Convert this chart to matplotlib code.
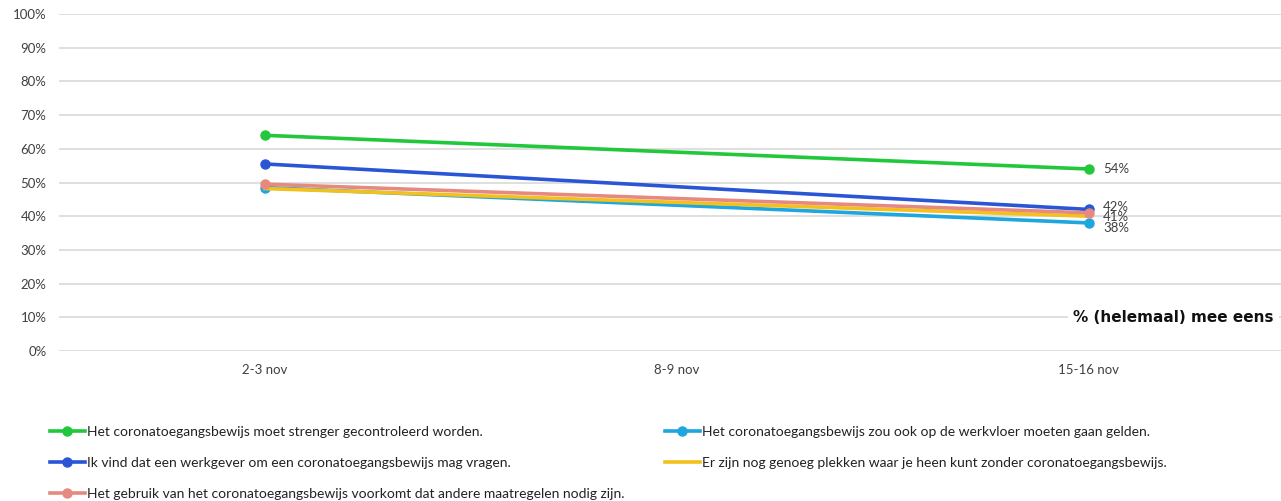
import matplotlib
matplotlib.use("Agg")
import matplotlib.pyplot as plt
from matplotlib.lines import Line2D
import numpy as np

plt.rcParams['font.family'] = ['Lato', 'DejaVu Sans']

categories = ["2-3 nov", "8-9 nov", "15-16 nov"]
# only first and last measurements present
x_idx = [0, 2]
green_vals = [0.64, 0.54]   # moet strenger gecontroleerd worden
blue_vals = [0.555, 0.42]   # werkgever mag vragen
pink_vals = [0.495, 0.41]   # voorkomt andere maatregelen
cyan_vals = [0.485, 0.38]   # werkvloer
yellow_vals = [0.482, 0.40] # genoeg plekken

green_label = "Het coronatoegangsbewijs moet strenger gecontroleerd worden."
blue_label = "Ik vind dat een werkgever om een coronatoegangsbewijs mag vragen."
pink_label = "Het gebruik van het coronatoegangsbewijs voorkomt dat andere maatregelen nodig zijn."
cyan_label = "Het coronatoegangsbewijs zou ook op de werkvloer moeten gaan gelden."
yellow_label = "Er zijn nog genoeg plekken waar je heen kunt zonder coronatoegangsbewijs."

yticks = [0, 0.1, 0.2, 0.3, 0.4, 0.5, 0.6, 0.7, 0.8, 0.9, 1.0]
ytick_labels = ["0%", "10%", "20%", "30%", "40%", "50%", "60%", "70%", "80%", "90%", "100%"]

C_GREEN = '#22c83c'
C_BLUE = '#2a56d6'
C_PINK = '#e68a80'
C_CYAN = '#1ea6de'
C_YELLOW = '#f3c01c'

W, H = 1281, 501
fig = plt.figure(figsize=(W/100, H/100), dpi=100)
ax_left, ax_right = 59, 1295
ax_top, ax_bottom = 14, 351
ax = fig.add_axes([ax_left/W, 1 - ax_bottom/H, (ax_right-ax_left)/W, (ax_bottom-ax_top)/H])
ax.set_xlim(-0.5, 2.5)
ax.set_ylim(0, 1.0)

for s in ax.spines.values():
    s.set_visible(False)
ax.set_yticks(yticks)
ax.set_yticklabels(ytick_labels, fontsize=9.5, color='#404040')
ax.set_xticks(range(len(categories)))
ax.set_xticklabels(categories, fontsize=9.5, color='#404040')
ax.tick_params(axis='both', length=0)
ax.tick_params(axis='y', pad=9)
ax.tick_params(axis='x', pad=9)
ax.grid(axis='y', color='#d9d9d9', linewidth=1.2)
ax.set_axisbelow(True)

lw = 2.6
ms = 6.5
ax.plot(x_idx, cyan_vals, color=C_CYAN, lw=lw, marker='o', ms=ms, zorder=3)
ax.plot(x_idx, yellow_vals, color=C_YELLOW, lw=lw, zorder=3)
ax.plot(x_idx, pink_vals, color=C_PINK, lw=lw, marker='o', ms=ms, zorder=4)
ax.plot(x_idx, blue_vals, color=C_BLUE, lw=lw, marker='o', ms=ms, zorder=3.5)
ax.plot(x_idx, green_vals, color=C_GREEN, lw=lw, marker='o', ms=ms, zorder=3)

def lab(val, dy):
    ax.annotate(f"{round(val*100):d}%", (2, val), xytext=(10, dy), textcoords='offset points',
                fontsize=9.5, color='#404040', va='center', ha='left')

lab(green_vals[1], 0)
lab(blue_vals[1], 1.5)
lab(pink_vals[1], -3)
lab(cyan_vals[1], -3.5)

fig.text(1073/W, 1 - 318/H, "% (helemaal) mee eens", fontsize=11, fontweight='bold',
         family=['DejaVu Sans'], color='#111111', va='center', ha='left',
         bbox=dict(facecolor='white', edgecolor='none', pad=4))

def h(color, marker=True):
    return Line2D([], [], color=color, lw=lw, marker='o' if marker else None, ms=ms)

leg_kw = dict(loc='upper left', frameon=False, fontsize=10, handlelength=2.5,
              handletextpad=0.15, labelspacing=1.36, borderaxespad=0, borderpad=0,
              labelcolor='#222222')
l1 = fig.legend([h(C_GREEN), h(C_BLUE), h(C_PINK)], [green_label, blue_label, pink_label],
                bbox_to_anchor=(50/W, 1 - 426/H), **leg_kw)
l2 = fig.legend([h(C_CYAN), h(C_YELLOW, False)], [cyan_label, yellow_label],
                bbox_to_anchor=(665/W, 1 - 426/H), **leg_kw)

fig.savefig("out.png", dpi=100, facecolor='white')
